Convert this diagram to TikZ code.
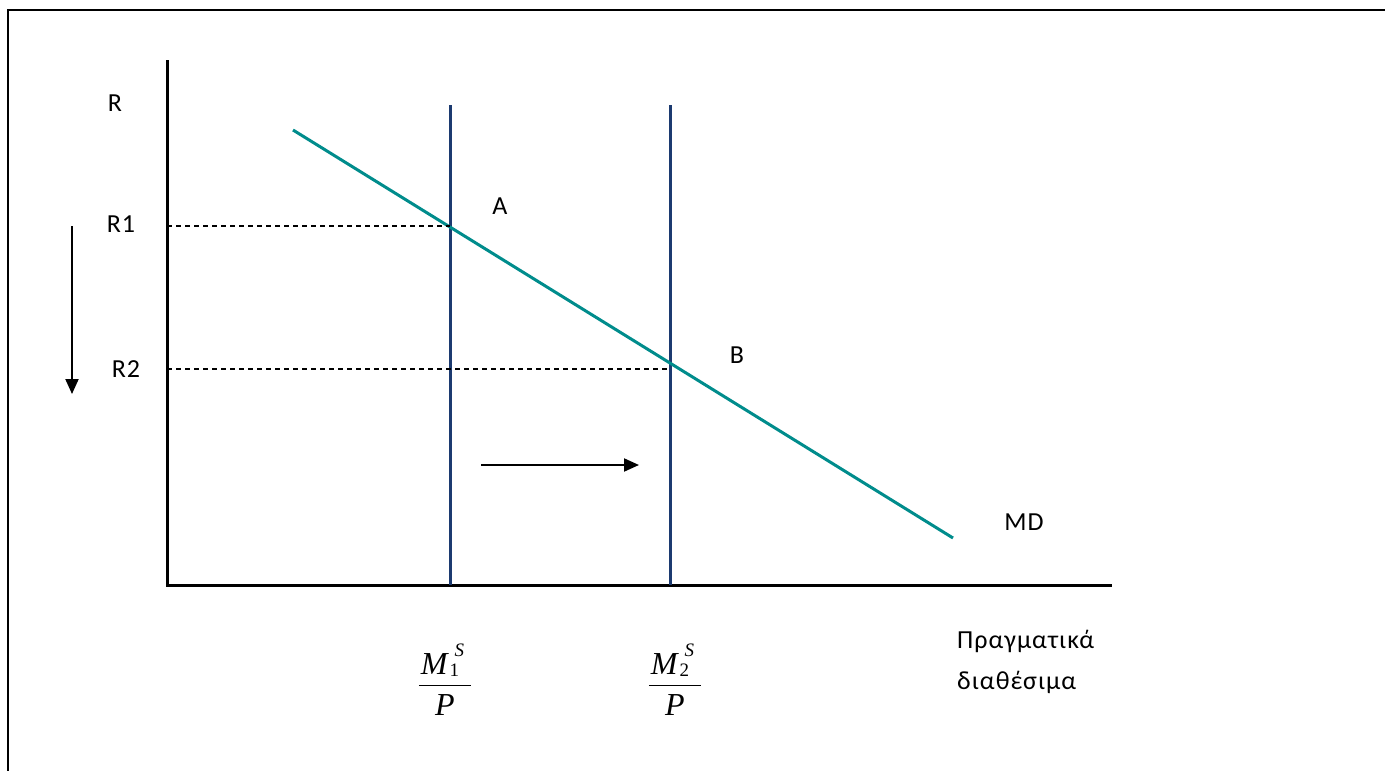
\documentclass[tikz,border=0pt]{standalone}
\usepackage{fontspec}
\setmainfont{Carlito}[LetterSpace=4]
\newfontfamily\tnr{Liberation Serif}
\usetikzlibrary{arrows.meta}
\definecolor{mdteal}{RGB}{0,140,140}
\definecolor{msnavy}{RGB}{28,58,112}
\tikzset{
  lbl/.style={font=\fontsize{26}{31}\selectfont, inner sep=0pt},
  axisline/.style={line width=3pt, black},
  msline/.style={line width=3pt, msnavy},
  mdline/.style={line width=3pt, mdteal},
  guide/.style={line width=1.2pt, black, dash pattern=on 5pt off 4pt},
  movearrow/.style={line width=2pt, black, -{Triangle[length=15pt,width=13pt]}},
  fracnode/.style={inner sep=0pt, font=\fontsize{32}{38}\selectfont}
}
\newcommand{\msnum}[1]{\hspace{2pt}{\tnr\itshape M}\hspace{2pt}\rlap{\raisebox{18pt}{\tnr\itshape\fontsize{19}{21}\selectfont\hspace{5pt}S}}\raisebox{-2pt}{\tnr\fontsize{19}{21}\selectfont #1}\hspace{12pt}}
\newcommand{\msfrac}[1]{$\displaystyle\frac{\mbox{\msnum{#1}}\rule[-5pt]{0pt}{5pt}}{\mbox{\tnr\itshape P}\rule{0pt}{29pt}}$}
\begin{document}
\begin{tikzpicture}[x=1pt,y=-1pt]
\useasboundingbox (0,0) rectangle (1385,771);
% frame
\draw[line width=2.5pt] (8,771) -- (8,10) -- (1385,10);
% axes
\coordinate (ytop) at (167,60);
\coordinate (orig) at (167,585);
\coordinate (xend) at (1112,585);
\draw[axisline] (ytop) -- (orig) -- (xend);
% money supply lines
\coordinate (ms1top) at (450,105);
\coordinate (ms1bot) at (450,585);
\coordinate (ms2top) at (670,105);
\coordinate (ms2bot) at (670,585);
\draw[msline] (ms1top) -- (ms1bot);
\draw[msline] (ms2top) -- (ms2bot);
% money demand
\coordinate (mdstart) at (293,130);
\coordinate (mdend) at (953,538);
\draw[mdline] (mdstart) -- (mdend);
% guides
\coordinate (ptA) at (450,226);
\coordinate (ptB) at (670,369);
\coordinate (yA) at (167,226);
\coordinate (yB) at (167,369);
\draw[guide] (yA) -- (ptA);
\draw[guide] (yB) -- (ptB);
% arrows
\coordinate (downS) at (72,226);
\coordinate (downE) at (72,394);
\draw[movearrow] (downS) -- (downE);
\coordinate (rightS) at (481,465);
\coordinate (rightE) at (639,465);
\draw[movearrow] (rightS) -- (rightE);
% labels
\node[lbl] (lR) at (115,103) {R};
\node[lbl] (lR1) at (121,224) {R1};
\node[lbl] (lR2) at (126,369) {R2};
\node[lbl] (lA) at (500,206) {A};
\node[lbl] (lB) at (737,355) {B};
\node[lbl] (lMD) at (1024,522) {MD};
\node[lbl, anchor=west] (lX1) at (957,641) {Πραγματικά};
\node[lbl, anchor=west] (lX2) at (957,682) {διαθέσιμα};
\node[fracnode] (f1) at (445,680) {\msfrac{1}};
\node[fracnode] (f2) at (675,680) {\msfrac{2}};
\end{tikzpicture}
\end{document}
